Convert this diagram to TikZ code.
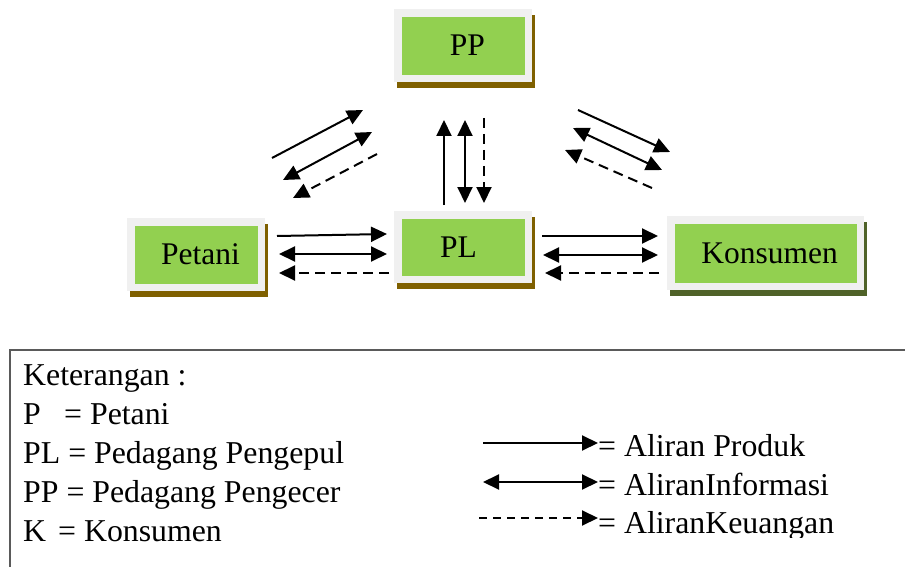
\documentclass[tikz,border=0pt]{standalone}
\usepackage{fontspec}
\setmainfont{Liberation Serif}
\usetikzlibrary{arrows.meta,shadows}
\definecolor{framegray}{HTML}{F0F0F0}
\definecolor{boxgreen}{HTML}{92D050}
\definecolor{shbrown}{HTML}{7F6000}
\definecolor{shgreen}{HTML}{4F6228}
\definecolor{legline}{HTML}{5A5A5A}
\tikzset{
  actor/.style={rectangle, fill=framegray, inner sep=0pt, outer sep=0pt,
    font=\fontsize{31.5}{36}\selectfont,
    path picture={\fill[boxgreen] ([shift={(8pt,7pt)}]path picture bounding box.south west) rectangle ([shift={(-7pt,-8pt)}]path picture bounding box.north east);},
    drop shadow={shadow xshift=3pt, shadow yshift=-6pt, fill=#1, opacity=1}},
  tip/.tip={Triangle[length=16pt,width=15pt]},
  prod/.style={line width=2pt, -tip},
  info/.style={line width=2pt, tip-tip},
  money/.style={line width=2pt, dash pattern=on 10pt off 6pt, -tip},
  legtext/.style={anchor=base west, inner sep=0pt, font=\fontsize{31.8}{36}\selectfont},
  legframe/.style={draw=legline, line width=1.2pt}
}
\begin{document}
\begin{tikzpicture}[x=1pt,y=-1pt]
\useasboundingbox (0,0) rectangle (905,567);
% boxes
\node[actor=shbrown, minimum width=138pt, minimum height=73pt] (pp) at (463,45.5) {\hspace*{9pt}PP};
\node[actor=shbrown, minimum width=138pt, minimum height=72pt] (pl) at (463,247) {PL\hspace*{9pt}};
\node[actor=shbrown, minimum width=138pt, minimum height=73pt] (p) at (196,254.5) {\hspace*{9pt}Petani};
\node[actor=shgreen, minimum width=197pt, minimum height=74pt] (k) at (765.5,253) {\hspace*{8pt}Konsumen};
% Petani - PL
\coordinate (a1) at (277,236); \coordinate (b1) at (387,234);
\coordinate (a2) at (279,254); \coordinate (b2) at (387,254);
\coordinate (a3) at (389,273); \coordinate (b3) at (279,273);
\draw[prod] (a1) -- (b1);
\draw[info] (a2) -- (b2);
\draw[money] (a3) -- (b3);
% PL - K
\coordinate (c1) at (542,236); \coordinate (d1) at (658,236);
\coordinate (c2) at (543,255); \coordinate (d2) at (658,255);
\coordinate (c3) at (659,273); \coordinate (d3) at (545,273);
\draw[prod] (c1) -- (d1);
\draw[info] (c2) -- (d2);
\draw[money] (c3) -- (d3);
% PL - PP
\coordinate (e1) at (444,205); \coordinate (f1) at (444,120);
\coordinate (e2) at (465,203); \coordinate (f2) at (465,120);
\coordinate (e3) at (484,118); \coordinate (f3) at (484,203);
\draw[prod] (e1) -- (f1);
\draw[info] (e2) -- (f2);
\draw[money] (e3) -- (f3);
% Petani - PP
\coordinate (g1) at (272,158); \coordinate (h1) at (363,110);
\coordinate (g2) at (283,180); \coordinate (h2) at (372,132);
\coordinate (g3) at (377,154); \coordinate (h3) at (293,198);
\draw[prod] (g1) -- (h1);
\draw[info] (g2) -- (h2);
\draw[money] (g3) -- (h3);
% PP - K
\coordinate (i1) at (578,110); \coordinate (j1) at (670,152);
\coordinate (i2) at (573,128); \coordinate (j2) at (662,170);
\coordinate (i3) at (652,188); \coordinate (j3) at (565,150);
\draw[prod] (i1) -- (j1);
\draw[info] (i2) -- (j2);
\draw[money] (i3) -- (j3);
% legend frame
\coordinate (lf1) at (905,350); \coordinate (lf2) at (10,350); \coordinate (lf3) at (10,567);
\draw[legframe] (lf1) -- (lf2) -- (lf3);
% legend text
\node[legtext] (lk) at (23,385) {Keterangan :};
\node[legtext] (lp) at (23,424) {P};
\node[legtext] (lpe) at (64,424) {= Petani};
\node[legtext] (lpl) at (23,463) {PL = Pedagang Pengepul};
\node[legtext] (lpp) at (23,502) {PP = Pedagang Pengecer};
\node[legtext] (lkk) at (23,541) {K};
\node[legtext] (lko) at (58,541) {= Konsumen};
% legend arrows
\coordinate (m1) at (483,443); \coordinate (n1) at (598,443);
\coordinate (m2) at (483,482); \coordinate (n2) at (598,482);
\coordinate (m3) at (479,518); \coordinate (n3) at (598,518);
\draw[prod] (m1) -- (n1);
\draw[info] (m2) -- (n2);
\draw[line width=2pt, dash pattern=on 8pt off 6pt, -tip] (m3) -- (n3);
\node[legtext] (t1) at (598,456) {= Aliran Produk};
\node[legtext] (t2) at (598,495) {= AliranInformasi};
\begin{scope}
\clip (590,500) rectangle (905,537);
\node[legtext] (t3) at (598,533) {= AliranKeuangan};
\end{scope}
\end{tikzpicture}
\end{document}
